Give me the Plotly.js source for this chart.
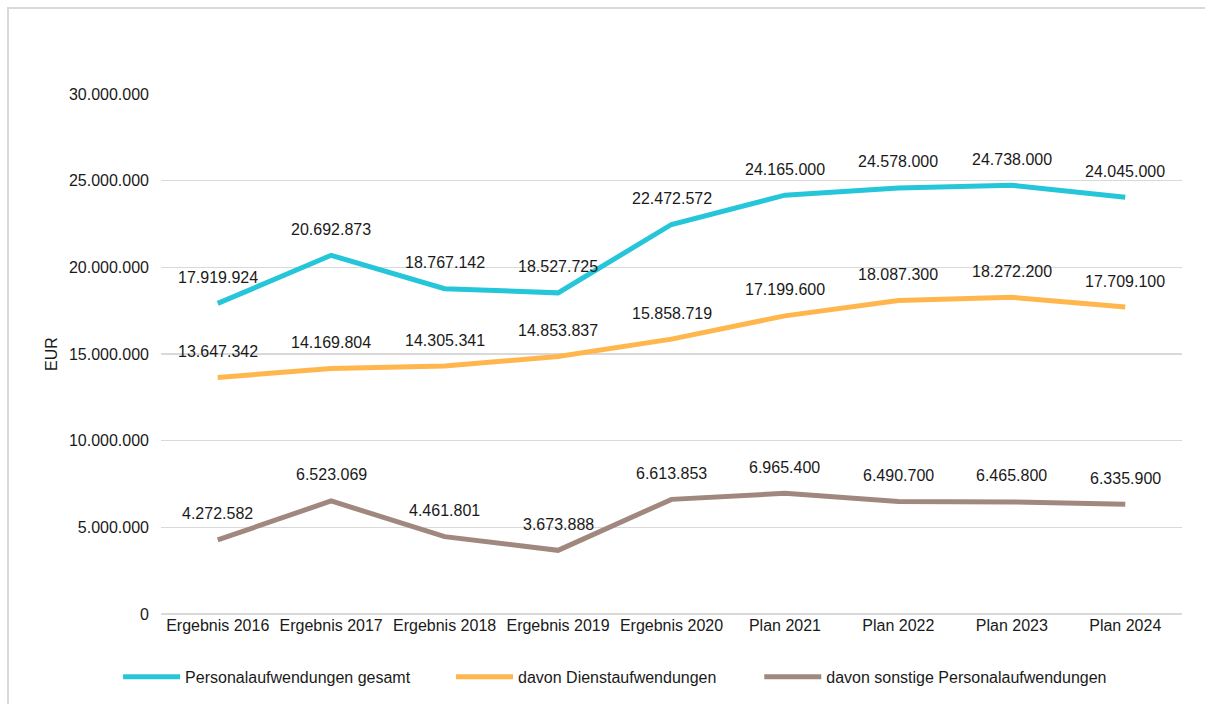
<!DOCTYPE html>
<html>
<head>
<meta charset="utf-8">
<script src="https://cdn.plot.ly/plotly-3.0.1.min.js"></script>
<style>
  html, body { margin: 0; padding: 0; background: #fff; }
  #frame { position: absolute; left: 7px; top: 7px; width: 1210px; height: 710px;
           border-left: 2px solid #d9d9d9; border-top: 2px solid #d9d9d9; }
  #chart { position: absolute; left: 0; top: 0; width: 1205px; height: 704px; }
</style>
</head>
<body>
<div id="frame"></div>
<div id="chart"></div>
<script>
const categories = ["Ergebnis 2016", "Ergebnis 2017", "Ergebnis 2018", "Ergebnis 2019", "Ergebnis 2020",
                    "Plan 2021", "Plan 2022", "Plan 2023", "Plan 2024"];
const seriesNames = ["Personalaufwendungen gesamt", "davon Dienstaufwendungen", "davon sonstige Personalaufwendungen"];
const gesamt = [17919924, 20692873, 18767142, 18527725, 22472572, 24165000, 24578000, 24738000, 24045000];
const dienst = [13647342, 14169804, 14305341, 14853837, 15858719, 17199600, 18087300, 18272200, 17709100];
const sonstige = [4272582, 6523069, 4461801, 3673888, 6613853, 6965400, 6490700, 6465800, 6335900];
const yTicks = [0, 5000000, 10000000, 15000000, 20000000, 25000000, 30000000];

const colors = ["#26C6DA", "#FFB74D", "#A1887F"];
const allSeries = [gesamt, dienst, sonstige];
const legendIds = ["legend", "legend2", "legend3"];
const legendX = [0.098, 0.3743, 0.6301];

function fmt(v) {
  return String(Math.round(v)).replace(/\B(?=(\d{3})+(?!\d))/g, ".");
}

const font = { family: "Liberation Sans, Arial, sans-serif", size: 16, color: "#1a1a1a" };

const traces = allSeries.map((vals, i) => ({
  type: "scatter",
  mode: "lines",
  x: categories,
  y: vals,
  name: seriesNames[i],
  legend: legendIds[i],
  line: { color: colors[i], width: 5 },
  hoverinfo: "skip"
}));

const annotations = [];
allSeries.forEach((vals) => {
  vals.forEach((v, j) => {
    annotations.push({
      x: categories[j], y: v, xref: "x", yref: "y",
      text: fmt(v), showarrow: false, yshift: 26,
      font: font
    });
  });
});

function legendCfg(x) {
  return {
    orientation: "h", xref: "container", yref: "container",
    x: x, xanchor: "left", y: 0.0384, yanchor: "middle",
    font: font, itemwidth: 57, bgcolor: "rgba(0,0,0,0)", borderwidth: 0
  };
}

const layout = {
  width: 1205, height: 704,
  margin: { l: 161, r: 23, t: 94, b: 90 },
  paper_bgcolor: "rgba(0,0,0,0)",
  plot_bgcolor: "rgba(0,0,0,0)",
  separators: ",.",
  font: font,
  showlegend: true,
  legend: legendCfg(legendX[0]),
  legend2: legendCfg(legendX[1]),
  legend3: legendCfg(legendX[2]),
  xaxis: {
    type: "category", range: [-0.5, 8.5], showgrid: false, zeroline: false,
    showline: false, ticks: "", tickfont: font, fixedrange: true
  },
  yaxis: {
    range: [0, 30000000], tickvals: yTicks, ticktext: yTicks.map(fmt),
    showgrid: true, gridcolor: "#d9d9d9", gridwidth: 1.5,
    zeroline: true, zerolinecolor: "#d9d9d9", zerolinewidth: 1.5,
    showline: false, ticks: "", tickfont: font, ticklabelstandoff: 11,
    title: { text: "EUR", font: font, standoff: 7 }, fixedrange: true
  },
  annotations: annotations
};

Plotly.newPlot("chart", traces, layout, { displayModeBar: false, staticPlot: true });
</script>
</body>
</html>
